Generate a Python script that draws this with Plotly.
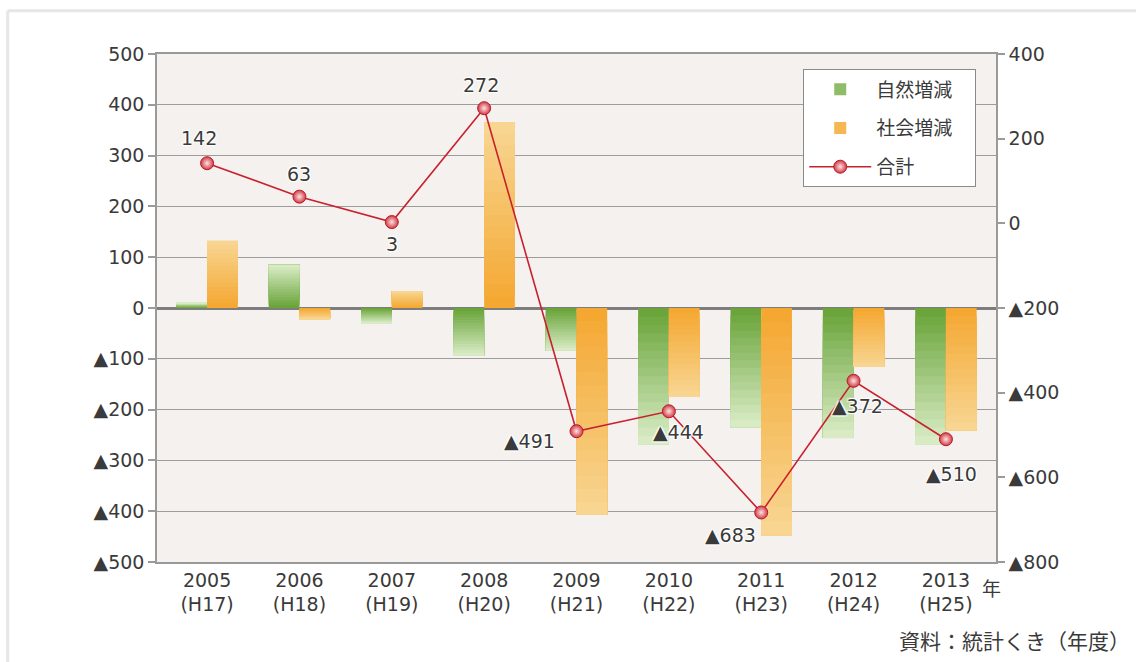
import plotly.graph_objects as go

years = ["2005", "2006", "2007", "2008", "2009", "2010", "2011", "2012", "2013"]
eras = ["H17", "H18", "H19", "H20", "H21", "H22", "H23", "H24", "H25"]
natural = [10, 85, -30, -94, -84, -269, -235, -256, -269]
social = [132, -22, 33, 366, -407, -175, -448, -116, -241]
total = [142, 63, 3, 272, -491, -444, -683, -372, -510]

left_ticks = [500, 400, 300, 200, 100, 0, -100, -200, -300, -400, -500]
right_ticks = [400, 200, 0, -200, -400, -600, -800]


def tri(v):
    return ("▲" + str(-v)) if v < 0 else str(v)


cats = [f"{y}<br>({e})" for y, e in zip(years, eras)]

FONT = "DejaVu Sans, Noto Sans CJK JP, sans-serif"
JFONT = "Noto Sans CJK JP, DejaVu Sans, sans-serif"
TXT = "#3a3a3a"

def mix(c1, c2, t):
    return "rgb(%d,%d,%d)" % tuple(round(a + (b - a) * t) for a, b in zip(c1, c2))

GREEN_DARK, GREEN_LIGHT = (106, 164, 58), (216, 235, 196)
ORANGE_DARK, ORANGE_LIGHT = (244, 168, 50), (248, 213, 145)

fig = go.Figure()
N = 16
for name, vals, dark, light, grp in [("自然増減    ", natural, GREEN_DARK, GREEN_LIGHT, "a"),
                                     ("社会増減    ", social, ORANGE_DARK, ORANGE_LIGHT, "b")]:
    for k in range(N):
        t = k / (N - 1)
        fig.add_trace(go.Bar(
            x=cats, y=[v * (N - k) / N for v in vals], base=[v * k / N for v in vals],
            offsetgroup=grp, name=name, legendgroup=name,
            showlegend=(k == N // 3), marker=dict(color=mix(dark, light, t), line=dict(width=0)),
            yaxis="y", hoverinfo="skip",
        ))

fig.add_trace(go.Scatter(
    x=cats, y=total, name="合計", yaxis="y2", mode="lines+markers", legendgroup="合計",
    line=dict(color="#c8202e", width=1.6),
    marker=dict(size=13, color="#d23a44", line=dict(color="#b81c2a", width=1),
                gradient=dict(type="radial", color="#fbe3e3")),
))

# data labels for 合計
offsets = [(-8, 25), (0, 23), (0, -22), (-3, 23), (-47, -10), (10, -21), (-31, -23), (4, -25), (6, -35)]
halo = "1px 1px 1px white, -1px -1px 1px white, 1px -1px 1px white, -1px 1px 1px white"
anns = []
for c, v, (dx, dy) in zip(cats, total, offsets):
    anns.append(dict(x=c, y=v, xref="x", yref="y2", text=tri(v), showarrow=False,
                     xshift=dx, yshift=dy,
                     font=dict(family=FONT, size=19, color=TXT, shadow=halo)))

anns.append(dict(x=1.008, y=-0.02, xref="paper", yref="paper", text="年", showarrow=False,
                 xanchor="right", yanchor="top", font=dict(family=JFONT, size=19, color=TXT)))
anns.append(dict(x=1.162, y=-0.12, xref="paper", yref="paper", text="資料：統計くき（年度）",
                 showarrow=False, xanchor="right", yanchor="top",
                 font=dict(family=JFONT, size=21, color=TXT)))

fig.update_layout(
    width=1136, height=662,
    margin=dict(l=157, r=140, t=54, b=100),
    paper_bgcolor="white", plot_bgcolor="#f4f1ee",
    barmode="group", bargap=0.335, bargroupgap=0,
    font=dict(family=FONT, size=19, color=TXT),
    annotations=anns,
    showlegend=True,
    legend=dict(x=0.770, y=0.970, xanchor="left", yanchor="top",
                bgcolor="white", bordercolor="#8a8a8a", borderwidth=1.2,
                font=dict(family=JFONT, size=19, color=TXT),
                tracegroupgap=11, itemwidth=62),
    xaxis=dict(type="category", showline=True, mirror=True, linecolor="#9a9a9a", linewidth=1.5,
               ticks="", tickfont=dict(size=19, family=FONT, color=TXT), showgrid=False),
    yaxis=dict(range=[-500, 500], tickvals=left_ticks, ticktext=[tri(v) for v in left_ticks],
               showgrid=True, gridcolor="#9c9c9c", gridwidth=1,
               zeroline=True, zerolinecolor="#7d7d7d", zerolinewidth=2.5,
               showline=True, linecolor="#9a9a9a", linewidth=1.5,
               ticks="outside", ticklen=7, tickcolor="#9a9a9a", tickwidth=1.5,
               tickfont=dict(size=19, family=FONT, color=TXT), fixedrange=True),
    yaxis2=dict(range=[-800, 400], tickvals=right_ticks, ticktext=[tri(v) for v in right_ticks],
                overlaying="y", side="right", showgrid=False, zeroline=False,
                showline=True, linecolor="#9a9a9a", linewidth=1.5,
                ticks="outside", ticklen=7, tickcolor="#9a9a9a", tickwidth=1.5,
                tickfont=dict(size=19, family=FONT, color=TXT)),
    shapes=[
        dict(type="line", xref="paper", yref="paper", x0=-0.178, x1=1.2, y0=1.085, y1=1.085,
             line=dict(color="#e6e6e6", width=3), layer="below"),
        dict(type="line", xref="paper", yref="paper", x0=-0.178, x1=-0.178, y0=-0.2, y1=1.085,
             line=dict(color="#e6e6e6", width=3), layer="below"),
    ],
)

fig.write_html("out.html", config={"displayModeBar": False},
               post_script="document.body.style.margin='0';")
